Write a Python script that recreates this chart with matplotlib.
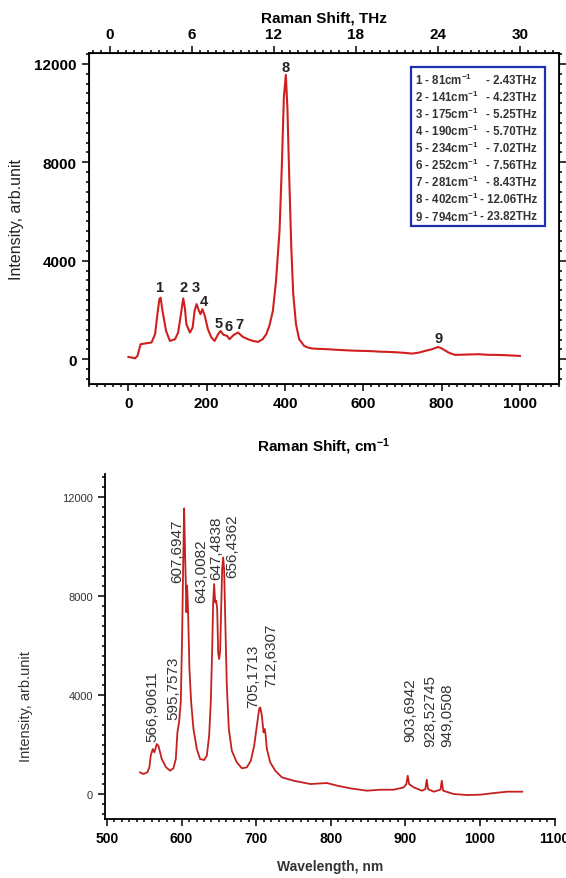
import numpy as np
import matplotlib.pyplot as plt
from matplotlib.ticker import MultipleLocator
from matplotlib.patches import Rectangle

plt.rcParams['font.family'] = ['Liberation Sans', 'DejaVu Sans']
plt.rcParams['mathtext.default'] = 'regular'

# ---- top panel: Raman spectrum ----
raman_shift = [0, 17, 23, 31, 42, 59, 68, 74, 79, 82, 87, 96, 106, 119, 127, 134, 140, 144,
               148, 157, 164, 169, 174, 180, 184, 189, 195, 203, 212, 220, 229, 235, 243, 252,
               258, 269, 280, 292, 305, 318, 331, 343, 352, 360, 369, 377, 386, 392, 397, 402,
               406, 411, 416, 421, 428, 436, 449, 460, 470, 490, 513, 535, 555, 575, 597, 620,
               640, 660, 682, 705, 725, 742, 758, 775, 791, 801, 818, 835, 860, 894, 920, 945,
               970, 1000]
raman_int = [95, 40, 135, 610, 640, 680, 1017, 1830, 2440, 2500, 1970, 1150, 745, 815, 1085,
             1830, 2470, 2100, 1425, 1085, 1290, 1970, 2240, 1970, 1830, 2035, 1765, 1220, 880,
             745, 1017, 1150, 990, 950, 815, 990, 1085, 910, 815, 745, 705, 815, 1017, 1355,
             1970, 3190, 5220, 7930, 10640, 11550, 10240, 7260, 4545, 2645, 1425, 815, 540,
             470, 435, 420, 405, 380, 365, 350, 340, 330, 310, 300, 285, 260, 230, 270, 340,
             405, 500, 435, 270, 175, 190, 205, 180, 175, 160, 135]

peak_nums = ['1', '2', '3', '4', '5', '6', '7', '8', '9']
peak_x = [78, 140, 172, 192, 231, 256, 284, 402, 792]
peak_y = [2920, 2920, 2920, 2350, 1490, 1360, 1420, 11870, 880]

table_left = ['1 - 81cm$^{-1}$', '2 - 141cm$^{-1}$', '3 - 175cm$^{-1}$', '4 - 190cm$^{-1}$',
              '5 - 234cm$^{-1}$', '6 - 252cm$^{-1}$', '7 - 281cm$^{-1}$', '8 - 402cm$^{-1}$',
              '9 - 794cm$^{-1}$']
table_right = ['- 2.43THz', '- 4.23THz', '- 5.25THz', '- 5.70THz', '- 7.02THz',
               '- 7.56THz', '- 8.43THz', '- 12.06THz', '- 23.82THz']

# ---- bottom panel: spectrum vs wavelength ----
wavelength = [544.3, 548.8, 554.0, 556.8, 558.6, 561.3, 563.5, 566.7, 568.9, 573.4, 579.2,
              584.6, 589.0, 592.2, 594.4, 596.6, 598.9, 600.7, 602.0, 603.4, 604.7, 605.6,
              606.5, 607.4, 608.7, 610.5, 612.8, 615.9, 620.4, 624.8, 630.2, 633.8, 636.9,
              639.1, 640.9, 642.3, 643.6, 645.0, 646.3, 647.7, 649.0, 650.3, 651.7, 653.0,
              654.4, 655.7, 657.0, 658.8, 660.6, 663.3, 667.3, 674.0, 680.8, 687.5, 692.8,
              697.3, 700.9, 704.0, 705.4, 707.6, 709.8, 711.2, 712.5, 714.3, 718.8, 725.5,
              734.5, 750.1, 772.5, 794.9, 808.3, 826.2, 848.5, 866.4, 884.3, 897.8, 901.3,
              903.1, 904.9, 911.2, 922.4, 926.8, 928.6, 930.4, 938.0, 947.0, 948.8, 950.6,
              964.9, 982.8, 1000.7, 1018.6, 1036.5, 1056.6]
wl_int = [876, 810, 876, 1080, 1550, 1820, 1685, 2020, 1955, 1415, 1080, 945, 1040, 1415,
          2495, 2900, 3710, 6400, 9100, 11550, 9640, 8560, 7350, 8430, 7350, 5055, 3710, 2630,
          1820, 1415, 1375, 1550, 2360, 3710, 5730, 7750, 8490, 7750, 7820, 7480, 5730, 5460,
          5800, 7480, 9100, 9570, 9100, 6670, 4380, 2630, 1750, 1280, 1040, 1080, 1350, 1955,
          2765, 3440, 3505, 3170, 2495, 2630, 2430, 1820, 1280, 945, 675, 540, 405, 445, 340,
          230, 135, 175, 175, 270, 405, 740, 405, 270, 135, 200, 580, 200, 95, 175, 540, 135,
          0, -40, -25, 40, 95, 95]

wl_labels = ['566,90611', '595,7573', '607,6947', '643,0082', '647,4838', '656,4362',
             '705,1713', '712,6307', '903,6942', '928,52745', '949,0508']
wl_label_x = [561.3, 589.0, 594.4, 627.0, 646.3, 667.3, 695.5, 719.7, 906.7, 933.6, 956.0]
wl_label_y = [2160, 3030, 8560, 7750, 8700, 8770, 3500, 4380, 2160, 1960, 1960]

fig = plt.figure(figsize=(5.66, 8.79), dpi=100)

# top panel
ax1 = fig.add_axes([0.1564, 0.562, 0.8313, 0.3766])
ax1.plot(raman_shift, raman_int, color='#d11f1f', lw=1.5)
ax1.set_xlim(-102, 1100)
ax1.set_ylim(-1005, 12440)
ax1.xaxis.set_major_locator(MultipleLocator(200))
ax1.xaxis.set_minor_locator(MultipleLocator(20))
ax1.yaxis.set_major_locator(MultipleLocator(4000))
ax1.yaxis.set_minor_locator(MultipleLocator(400))
ax1.tick_params(which='both', direction='out', right=True, width=1.1)
ax1.tick_params(which='major', length=5, labelsize=11)
ax1.tick_params(which='minor', length=2.5)
for lab in ax1.get_xticklabels() + ax1.get_yticklabels():
    lab.set_fontweight('bold')
for sp in ax1.spines.values():
    sp.set_linewidth(1.3)
ax1.set_xlabel('Raman Shift, cm$^{-1}$', fontsize=11, fontweight='bold')
ax1.xaxis.set_label_coords(0.5, -0.155)
ax1.set_ylabel('Intensity, arb.unit', fontsize=11.5, color='#222222')
ax1.yaxis.set_label_coords(-0.138, 0.5)

for t, x, y in zip(peak_nums, peak_x, peak_y):
    ax1.text(x, y, t, ha='center', va='center', fontsize=10.5, fontweight='bold', color='#222222')

ax1.add_patch(Rectangle((0.685, 0.477), 0.285, 0.481, transform=ax1.transAxes,
                        fill=False, edgecolor='#1f2fb0', lw=1.6, zorder=5))
for i, (l, r) in enumerate(zip(table_left, table_right)):
    yy = 0.919 - i * 0.0514
    ax1.text(0.694, yy, l, transform=ax1.transAxes, ha='left', va='center',
             fontsize=8.3, fontweight='bold', color='#333333')
    ax1.text(0.953, yy, r, transform=ax1.transAxes, ha='right', va='center',
             fontsize=8.3, fontweight='bold', color='#333333')

axt = ax1.twiny()
axt.set_xlim(-1.54, 32.86)
axt.xaxis.set_major_locator(MultipleLocator(6))
axt.xaxis.set_minor_locator(MultipleLocator(0.6))
axt.tick_params(which='both', direction='out', width=1.1)
axt.tick_params(which='major', length=5, labelsize=11)
axt.tick_params(which='minor', length=2.5)
for lab in axt.get_xticklabels():
    lab.set_fontweight('bold')
axt.set_xlabel('Raman Shift, THz', fontsize=11, fontweight='bold', labelpad=4)

# bottom panel
ax2 = fig.add_axes([0.1855, 0.0671, 0.795, 0.3925])
ax2.plot(wavelength, wl_int, color='#c42020', lw=1.3)
ax2.set_xlim(497.3, 1100.5)
ax2.set_ylim(-1010, 12940)
ax2.xaxis.set_major_locator(MultipleLocator(100))
ax2.xaxis.set_minor_locator(MultipleLocator(10))
ax2.yaxis.set_major_locator(MultipleLocator(4000))
ax2.yaxis.set_minor_locator(MultipleLocator(400))
ax2.spines['top'].set_visible(False)
ax2.spines['right'].set_visible(False)
for sp in ('left', 'bottom'):
    ax2.spines[sp].set_linewidth(1.3)
ax2.tick_params(which='both', direction='out', width=1.1)
ax2.tick_params(which='major', length=5)
ax2.tick_params(which='minor', length=2.5)
ax2.tick_params(axis='x', labelsize=10)
ax2.tick_params(axis='y', labelsize=8, labelcolor='#333333')
for lab in ax2.get_xticklabels():
    lab.set_fontweight('bold')
ax2.set_xlabel('Wavelength, nm', fontsize=10, fontweight='bold', color='#333333')
ax2.xaxis.set_label_coords(0.5, -0.115)
ax2.set_ylabel('Intensity, arb.unit', fontsize=10.5, color='#333333')
ax2.yaxis.set_label_coords(-0.16, 0.33)

for t, x, y in zip(wl_labels, wl_label_x, wl_label_y):
    ax2.text(x, y, t, rotation=90, ha='center', va='bottom', fontsize=11, color='#333333')

fig.savefig('out.png', dpi=100)
